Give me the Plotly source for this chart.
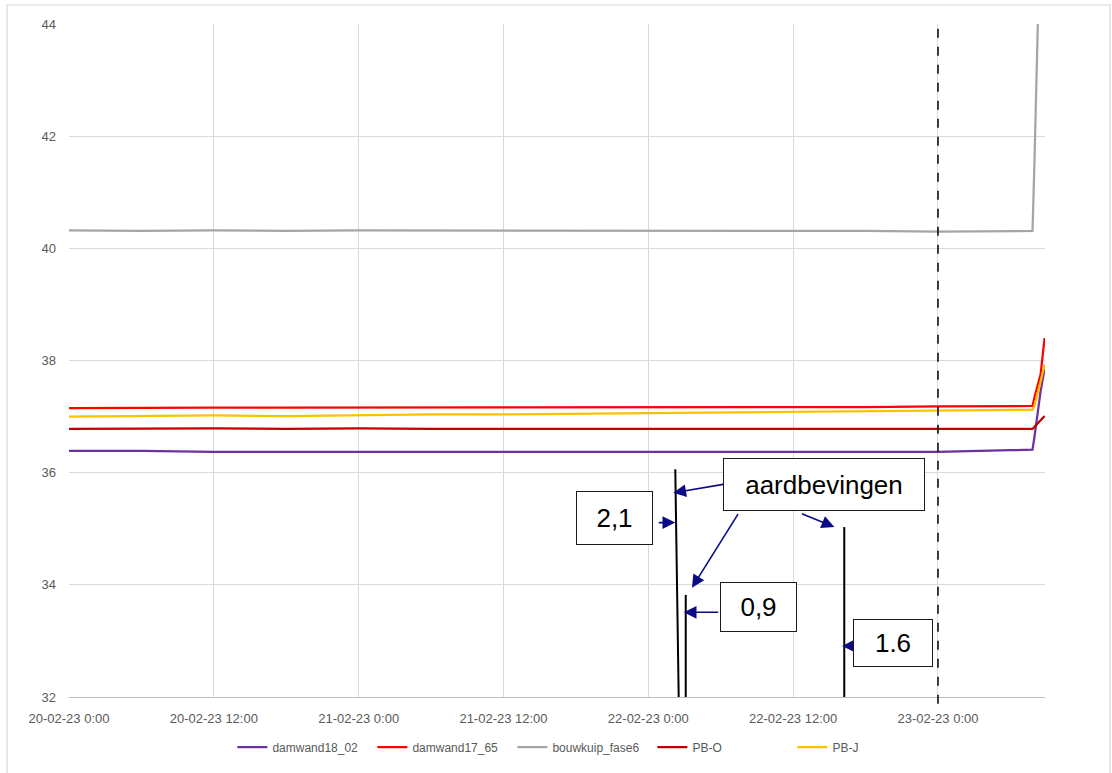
import plotly.graph_objects as go

# ---------------- data ----------------
times = [
    "2023-02-20 00:00", "2023-02-20 06:00", "2023-02-20 12:00", "2023-02-20 18:00",
    "2023-02-21 00:00", "2023-02-21 06:00", "2023-02-21 12:00", "2023-02-21 18:00",
    "2023-02-22 00:00", "2023-02-22 06:00", "2023-02-22 12:00", "2023-02-22 18:00",
    "2023-02-23 00:00", "2023-02-23 06:00", "2023-02-23 07:50", "2023-02-23 08:00",
    "2023-02-23 08:15", "2023-02-23 08:30", "2023-02-23 08:50",
]
damwand18_02 = [36.39, 36.39, 36.37, 36.37, 36.37, 36.37, 36.37, 36.37, 36.37, 36.37,
                36.37, 36.37, 36.37, 36.40, 36.41, 36.65, 37.10, 37.45, 37.85]
damwand17_65 = [37.15, 37.16, 37.16, 37.16, 37.16, 37.16, 37.16, 37.16, 37.17, 37.17,
                37.17, 37.17, 37.18, 37.18, 37.19, 37.35, 37.57, 37.75, 38.40]
bouwkuip_fase6 = [40.32, 40.31, 40.32, 40.31, 40.32, 40.32, 40.32, 40.31, 40.32, 40.32,
                  40.32, 40.31, 40.30, 40.30, 40.31, 41.60, 44.30, 46.00, 46.00]
PB_O = [36.78, 36.79, 36.79, 36.78, 36.79, 36.78, 36.78, 36.78, 36.79, 36.79,
        36.78, 36.78, 36.78, 36.78, 36.78, 36.82, 36.88, 36.93, 37.01]
PB_J = [37.00, 37.01, 37.02, 37.01, 37.03, 37.04, 37.04, 37.05, 37.06, 37.07,
        37.08, 37.09, 37.10, 37.11, 37.12, 37.20, 37.40, 37.62, 37.93]

series_names = ["damwand18_02", "damwand17_65", "bouwkuip_fase6", "PB-O", "PB-J"]
series_values = [damwand18_02, damwand17_65, bouwkuip_fase6, PB_O, PB_J]
series_colors = ["#7030A0", "#FF0000", "#A5A5A5", "#C00000", "#FFC000"]

# earthquakes (vertical black marks)
eq_time_top = ["2023-02-22 02:14", "2023-02-22 03:06", "2023-02-22 16:14"]
eq_time_bottom = ["2023-02-22 02:31", "2023-02-22 03:06", "2023-02-22 16:14"]
eq_top = [36.06, 33.82, 35.03]
eq_bottom = [32.0, 32.0, 32.0]
eq_magnitudes = ["2,1", "0,9", "1.6"]

marker_time = "2023-02-23 00:00"

x_tickvals = ["2023-02-20 00:00", "2023-02-20 12:00", "2023-02-21 00:00", "2023-02-21 12:00",
              "2023-02-22 00:00", "2023-02-22 12:00", "2023-02-23 00:00"]
x_ticktext = ["20-02-23 0:00", "20-02-23 12:00", "21-02-23 0:00", "21-02-23 12:00",
              "22-02-23 0:00", "22-02-23 12:00", "23-02-23 0:00"]
y_tickvals = [32, 34, 36, 38, 40, 42, 44]

# ---------------- figure ----------------
fig = go.Figure()

# earthquake lines
for tt, tb, yt, yb in zip(eq_time_top, eq_time_bottom, eq_top, eq_bottom):
    fig.add_trace(go.Scatter(x=[tt, tb], y=[yt, yb], mode="lines",
                             line=dict(color="black", width=2),
                             showlegend=False, hoverinfo="skip"))

for name, vals, col in zip(series_names, series_values, series_colors):
    fig.add_trace(go.Scatter(x=times, y=vals, mode="lines", name=name,
                             line=dict(color=col, width=2.25)))

# dashed vertical marker
fig.add_shape(type="line", xref="x", yref="paper", x0=marker_time, x1=marker_time,
              y0=-0.01, y1=1, line=dict(color="black", width=1.5, dash="dash"))

# outer chart border
fig.add_shape(type="rect", xref="paper", yref="paper",
              x0=-0.0635, x1=1.0666, y0=-0.12, y1=1.0282,
              line=dict(color="#D9D9D9", width=1.2), fillcolor="rgba(0,0,0,0)", layer="below")

arrow_color = "#0B0B85"
font_box = dict(family="Liberation Sans, Arial, sans-serif", size=26, color="black")

# arrows: (head time, head value, ax px, ay px)
arrows = [
    ("2023-02-22 02:04", 35.64, 53, -9),
    ("2023-02-22 03:37", 33.95, 47, -75),
    ("2023-02-22 15:25", 35.03, -34, -14),
    ("2023-02-22 02:14", 35.11, -18, 0),
    ("2023-02-22 02:56", 33.51, 36, 0),
    ("2023-02-22 16:03", 32.91, 12, 0),
]
for t, v, ax, ay in arrows:
    fig.add_annotation(x=t, y=v, xref="x", yref="y", ax=ax, ay=ay, text="",
                       showarrow=True, arrowhead=2, arrowsize=1.6, arrowwidth=1.6,
                       arrowcolor=arrow_color, standoff=0, startstandoff=0)

# text boxes (paper coords): text, x, y, w, h
boxes = [
    ("aardbevingen", 0.7736, 0.3157, 200, 51),
    (eq_magnitudes[0], 0.5589, 0.2660, 75, 52),
    (eq_magnitudes[1], 0.7065, 0.1337, 75, 48),
    (eq_magnitudes[2], 0.8443, 0.0802, 78, 46),
]
for txt, x, y, w, h in boxes:
    fig.add_annotation(x=x, y=y, xref="paper", yref="paper", text=txt, showarrow=False,
                       width=w, height=h, bgcolor="white", bordercolor="#1a1a1a",
                       borderwidth=1, borderpad=0, font=font_box,
                       xanchor="center", yanchor="middle", align="center", valign="middle")

tick_font = dict(family="Liberation Sans, Arial, sans-serif", size=13, color="#595959")

fig.update_layout(
    width=1112, height=773,
    margin=dict(l=69, r=67, t=24, b=76),
    paper_bgcolor="white", plot_bgcolor="white",
    showlegend=True,
    legend=dict(orientation="h", x=0.526, xanchor="center", y=-0.0743, yanchor="middle",
                font=dict(family="Liberation Sans, Arial, sans-serif", size=12, color="#595959"),
                itemwidth=30, tracegroupgap=0, entrywidth=95, entrywidthmode="pixels"),
    xaxis=dict(type="date", range=["2023-02-20 00:00", "2023-02-23 08:52"],
               tickmode="array", tickvals=x_tickvals, ticktext=x_ticktext,
               showgrid=True, gridcolor="#D9D9D9", gridwidth=1,
               showline=True, linecolor="#BFBFBF", linewidth=1.2,
               ticks="", tickfont=tick_font, ticklabelstandoff=9, zeroline=False),
    yaxis=dict(range=[32, 44], tickmode="array", tickvals=y_tickvals,
               showgrid=True, gridcolor="#D9D9D9", gridwidth=1,
               showline=False, ticks="", tickfont=tick_font, ticklabelstandoff=12,
               zeroline=False),
)

fig.write_html("out.html", config={"displayModeBar": False},
               post_script="document.body.style.margin='0';document.body.style.overflow='hidden';")
